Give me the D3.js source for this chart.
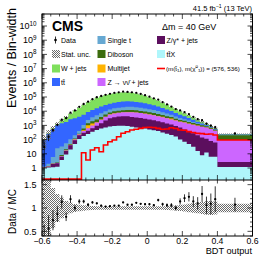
<!DOCTYPE html>
<html><head><meta charset="utf-8">
<script src="https://cdn.jsdelivr.net/npm/d3@7/dist/d3.min.js"></script>
<style>
html,body{margin:0;padding:0;background:#fff;}
svg{display:block;font-family:"Liberation Sans",Arial,Helvetica,sans-serif;}
</style></head><body>
<svg id="chart" width="266" height="258"></svg>
<script>
// ---------------- data (events / bin width) ----------------
const binEdges = [-0.6,-0.575,-0.55,-0.525,-0.5,-0.475,-0.45,-0.425,-0.4,-0.375,-0.35,-0.325,-0.3,-0.275,-0.25,-0.225,-0.2,-0.175,-0.15,-0.125,-0.1,-0.075,-0.05,-0.025,0,0.025,0.05,0.075,0.1,0.125,0.15,0.175,0.2,0.225,0.25,0.275,0.3,0.325,0.35,0.375,0.4,0.6];
const ttX      = [1.0,1.1,1.15,1.25,3.6,9,20,50,112,178,251,355,479,603,724,832,912,955,955,912,794,724,661,603,525,457,398,316,263,209,166,100,71,50,32,16,8,12.6,6.3,6.3,1.17];
const zGamma   = [0.05,0.15,0.75,0.9,2.7,7,20,40,88,120,166,276,476,810,1514,2330,2890,3214,3512,3453,3187,2906,2650,2348,2105,1887,1597,1344,1117,939,725,608,454,348,250,184,133,100,73,57,1.46];
const zNuNu    = [0.02,0.05,0.1,0.1,0.5,1,2.5,10,30,100,214,369,630,1100,1800,2700,3200,3600,3900,4200,4600,4400,4100,3700,3300,2900,2500,2100,1800,1500,1300,1100,1060,920,840,755,653,595,483,350,91];
const multijet = [0,0,0,0,0,0,0.5,5,5,60,400,350,60,80,100,120,300,150,150,150,200,150,130,250,100,100,150,250,100,400,100,80,60,50,40,30,20,15,10,8,2];
const diboson  = [0.05,0.1,0.1,0.2,1.5,4,5,15,25,150,400,600,950,1300,1700,2200,2700,3000,3300,3500,3500,3300,3000,2700,2400,2000,1700,1400,1100,800,700,550,450,380,320,250,200,150,100,70,110];
const singleTop= [0.15,0.6,3.9,22,24,35,57,80,150,450,1000,1800,2500,3200,4000,5000,6000,6800,7500,8000,8000,7500,7000,6200,5400,4700,3900,3000,2400,1800,1300,900,650,450,280,170,110,70,40,25,8];
const ttbar    = [92,255,560,1060,1380,1700,2595,2970,3711,4500,6400,8500,11000,14000,17000,20000,24000,27000,29000,30000,28000,26000,23000,20000,17000,14000,11000,8500,6200,4500,3200,2300,1600,1100,700,400,250,140,60,35,12];
const wJets    = [6.7,25,65,175,827,2225,4061,8050,13660,22626,34821,50846,71001,91109,111200,129000,146207,159455,165479,163581,151245,132848,110815,87226,66894,49814,34989,22901,15204,9805,6634,4362,2734,1714,1086,707,404,176,119,80,25];
const dataObs  = [30,158,467,1095,2530,3225,8046,11220,20273,32130,46708,70668,95806,117812,142179,168668,195519,214383,239452,228762,213493,197389,164978,132869,105542,80409,65794,42996,29875,21150,14125,11400,8566,6215,4045,2763,2311,1335,971,751,269];
const mcStatUnc= [0.8,0.65,0.43,0.3,0.22,0.15,0.11,0.085,0.07,0.06,0.05,0.045,0.04,0.035,0.035,0.035,0.035,0.035,0.035,0.035,0.035,0.035,0.035,0.035,0.035,0.035,0.035,0.04,0.045,0.05,0.055,0.065,0.075,0.09,0.1,0.11,0.13,0.145,0.15,0.14,0.09];
const signal   = [0,0,0,0,0,0,0,0,0,12,3.7,18.5,27,14,42,71,94,160,277,360,475,535,617,708,741,708,617,537,562,692,603,479,457,363,316,275,263,240,251,209,93];
const xTickValues = [-0.6,-0.4,-0.2,0,0.2,0.4,0.6];
const yTickPowers = [0,1,2,3,4,5,6,7,8,9,10];
const ratioTickValues = [0.5,1,1.5];

// stack order: bottom -> top
const layerDefs = [
  {key:"ttX",   values:ttX,      color:"#aff6fb"},
  {key:"zg",    values:zGamma,   color:"#5c0f5e"},
  {key:"znn",   values:zNuNu,    color:"#cc66ff"},
  {key:"mj",    values:multijet, color:"#ffb300"},
  {key:"vv",    values:diboson,  color:"#3c6c0e"},
  {key:"st",    values:singleTop,color:"#66a8d2"},
  {key:"tt",    values:ttbar,    color:"#3366ff"},
  {key:"wj",    values:wJets,    color:"#7fe05c"}
];
const colorOf = Object.fromEntries(layerDefs.map(l=>[l.key,l.color]));

// ---------------- layout ----------------
const svg = d3.select("#chart");
const L=42, R=252.5, T1=14, B1=180, B2=236;
const x  = d3.scaleLinear().domain([-0.6,0.6]).range([L,R]);
const y  = d3.scaleLog().domain([0.143,7e10]).range([B1,T1]);
const yr = d3.scaleLinear().domain([0.4,1.6]).range([B2,B1]);
const yc = v => v > y.domain()[0] ? y(v) : B1 + 3;

const defs = svg.append("defs");
defs.append("clipPath").attr("id","clipMain").append("rect")
  .attr("x",L).attr("y",T1).attr("width",R-L).attr("height",B1-T1);
defs.append("clipPath").attr("id","clipRatio").append("rect")
  .attr("x",L).attr("y",B1).attr("width",R-L).attr("height",B2-B1);
const pat = defs.append("pattern").attr("id","hatch").attr("patternUnits","userSpaceOnUse")
  .attr("width",2).attr("height",2);
pat.append("rect").attr("x",0).attr("y",0).attr("width",1).attr("height",1).attr("fill","#6a6a6a");
pat.append("rect").attr("x",1).attr("y",1).attr("width",1).attr("height",1).attr("fill","#6a6a6a");

const nBins = binEdges.length-1;
const table = d3.range(nBins).map(i => Object.fromEntries(layerDefs.map(l=>[l.key,l.values[i]])));
const series = d3.stack().keys(layerDefs.map(l=>l.key))(table);
const total = d3.range(nBins).map(i => series[series.length-1][i][1]);

const stepPts = (f0,f1) => d3.range(nBins).flatMap(i => [[binEdges[i],f0(i),f1(i)],[binEdges[i+1],f0(i),f1(i)]]);
const areaMain = d3.area().x(d=>x(d[0])).y0(d=>yc(d[1])).y1(d=>yc(d[2]));

const gMain = svg.append("g").attr("clip-path","url(#clipMain)");
// draw cumulative histograms from top to bottom (THStack style)
for (let k=series.length-1;k>=0;k--){
  const s = series[k];
  gMain.append("path")
    .attr("d", areaMain(stepPts(()=>0, i=>s[i][1])))
    .attr("fill", layerDefs[k].color);
}
// stat. unc. band
gMain.append("path")
  .attr("d", areaMain(stepPts(i=>total[i]*(1-mcStatUnc[i]), i=>total[i]*(1+mcStatUnc[i]))))
  .attr("fill","url(#hatch)");
// signal
const sigLine = d3.line().x(d=>x(d[0])).y(d=> d[1]>0 ? y(d[1]) : B1-0.9);
gMain.append("path")
  .attr("d", sigLine(d3.range(nBins).flatMap(i=>[[binEdges[i],signal[i]],[binEdges[i+1],signal[i]]])))
  .attr("fill","none").attr("stroke","#ff0000").attr("stroke-width",1.6);

// data points main
const centers = d3.range(nBins).map(i => (binEdges[i]+binEdges[i+1])/2);
const widths = d3.range(nBins).map(i => binEdges[i+1]-binEdges[i]);
const dataErr = d3.range(nBins).map(i => Math.sqrt(dataObs[i]*widths[i])/widths[i]);
const gData = svg.append("g").attr("clip-path","url(#clipMain)");
d3.range(nBins).forEach(i=>{
  const cx = x(centers[i]);
  gData.append("line").attr("x1",cx).attr("x2",cx)
    .attr("y1",yc(dataObs[i]-dataErr[i])).attr("y2",yc(dataObs[i]+dataErr[i]))
    .attr("stroke","#000").attr("stroke-width",0.8);
  gData.append("circle").attr("cx",cx).attr("cy",yc(dataObs[i])).attr("r",1.15).attr("fill","#000");
});

// ---------------- ratio ----------------
const gRatio = svg.append("g").attr("clip-path","url(#clipRatio)");
const areaR = d3.area().x(d=>x(d[0])).y0(d=>yr(d[1])).y1(d=>yr(d[2]));
gRatio.append("path")
  .attr("d", areaR(stepPts(i=>1-mcStatUnc[i], i=>1+mcStatUnc[i])))
  .attr("fill","url(#hatch)");
d3.range(nBins).forEach(i=>{
  const r = dataObs[i]/total[i], e = dataErr[i]/total[i];
  const cx = x(centers[i]);
  gRatio.append("line").attr("x1",cx).attr("x2",cx)
    .attr("y1",yr(r-e)).attr("y2",yr(r+e)).attr("stroke","#000").attr("stroke-width",0.8);
  gRatio.append("circle").attr("cx",cx).attr("cy",yr(r)).attr("r",1.15).attr("fill","#000");
});

// ---------------- frame & ticks ----------------
svg.append("rect").attr("x",L).attr("y",T1).attr("width",R-L).attr("height",B2-T1)
  .attr("fill","none").attr("stroke","#000").attr("stroke-width",1);
svg.append("line").attr("x1",L).attr("x2",R).attr("y1",B1).attr("y2",B1).attr("stroke","#000").attr("stroke-width",1);

const gAx = svg.append("g").attr("stroke","#000").attr("stroke-width",0.7);
const vt = (xp,y0,len)=>gAx.append("line").attr("x1",xp).attr("x2",xp).attr("y1",y0).attr("y2",y0+len);
const ht = (yp,x0,len)=>gAx.append("line").attr("y1",yp).attr("y2",yp).attr("x1",x0).attr("x2",x0+len);
const isMajorX = v => xTickValues.some(t=>Math.abs(t-v)<1e-6);
d3.range(-0.6,0.6001,0.05).forEach(v=>{
  const m = isMajorX(v), xp = x(v);
  vt(xp,B1,-(m?5:2.5)); vt(xp,T1,(m?5:2.5));
  vt(xp,B2,-(m?5:2.5)); vt(xp,B1,(m?3.5:1.8));
});
for (let k=-1;k<=10;k++){
  for (let m=1;m<=9;m++){
    const v = m*Math.pow(10,k);
    if (v<y.domain()[0] || v>y.domain()[1]) continue;
    const yp = y(v), len = m===1?5:2.5;
    ht(yp,L,len); ht(yp,R,-len);
  }
}
d3.range(0.4,1.6001,0.1).forEach(v=>{
  const m = ratioTickValues.some(t=>Math.abs(t-v)<1e-6);
  const yp = yr(v), len = m?5:2.5;
  ht(yp,L,len); ht(yp,R,-len);
});

// ---------------- labels ----------------
const txt = (xp,yp,s,size,anchor)=>svg.append("text").attr("x",xp).attr("y",yp)
  .attr("font-size",size).attr("text-anchor",anchor||"start").attr("fill","#000").text(s);

xTickValues.forEach(v=>{
  txt(x(v), 243.5, (v<0?"\u2212":"")+Math.abs(v).toString(), 8.7, "middle");
});
yTickPowers.forEach(p=>{
  const t = svg.append("text").attr("x",36.5).attr("y",y(Math.pow(10,p))+3.2)
    .attr("font-size",9).attr("text-anchor","end");
  if (p===0) t.text("1");
  else if (p===1) t.text("10");
  else { t.append("tspan").text("10"); t.append("tspan").attr("dy",-3.6).attr("font-size",6.3).text(p); }
});
ratioTickValues.forEach(v=>txt(36.5, yr(v)+3.2, v.toString(), 9, "end"));

txt(252, 253.5, "BDT output", 9.2, "end");
svg.append("text").attr("transform","translate(15.5,8) rotate(-90)").attr("text-anchor","end")
  .attr("font-size",12.5).text("Events / Bin-width");
svg.append("text").attr("transform","translate(15.5,211.5) rotate(-90)").attr("text-anchor","middle")
  .attr("font-size",10).text("Data / MC");

// top texts
svg.append("text").attr("x",52).attr("y",30.5).attr("font-size",14).attr("font-weight","bold").text("CMS");
{
  const t = svg.append("text").attr("x",252).attr("y",11).attr("font-size",7.5).attr("text-anchor","end");
  t.append("tspan").text("41.5 fb");
  t.append("tspan").attr("dy",-2.8).attr("font-size",5.2).text("\u22121");
  t.append("tspan").attr("dy",2.8).text(" (13 TeV)");
}
txt(162, 30, "\u0394m = 40 GeV", 9);

// legend
const rows = [40,54,68.5,82];
const box = (bx,row,fill)=>svg.append("rect").attr("x",bx).attr("y",rows[row]-4).attr("width",8).attr("height",8)
  .attr("fill",fill);
const lt = (tx,row,s)=>txt(tx, rows[row]+2.5, s, 7);
// col 1
svg.append("line").attr("x1",55.5).attr("x2",55.5).attr("y1",rows[0]-3.5).attr("y2",rows[0]+3.5).attr("stroke","#000").attr("stroke-width",0.8);
svg.append("circle").attr("cx",55.5).attr("cy",rows[0]).attr("r",1.3).attr("fill","#000");
lt(61,0,"Data");
box(52,1,"url(#hatch)"); lt(61,1,"Stat. unc.");
box(52,2,colorOf.wj); lt(61,2,"W + jets");
box(52,3,colorOf.tt); lt(61,3,"tt\u0304");
// col 2
box(97.5,0,colorOf.st); lt(107.5,0,"Single t");
box(97.5,1,colorOf.vv); lt(107.5,1,"Diboson");
box(97.5,2,colorOf.mj); lt(107.5,2,"Multijet");
box(97.5,3,colorOf.znn); lt(107.5,3,"Z \u2192 \u03bd\u03bd\u0304 + jets");
// col 3
box(157,0,colorOf.zg); lt(166.5,0,"Z/\u03b3* + jets");
box(157,1,colorOf.ttX); lt(166.5,1,"tt\u0304X");
svg.append("line").attr("x1",157).attr("x2",165).attr("y1",rows[2]).attr("y2",rows[2]).attr("stroke","#ff0000").attr("stroke-width",1.6);
{
  const t = svg.append("text").attr("x",166).attr("y",rows[2]+2.3).attr("font-size",6.2);
  t.append("tspan").text("(m(t\u0303");
  t.append("tspan").attr("dy",1.6).attr("font-size",4.4).text("1");
  t.append("tspan").attr("dy",-1.6).text("), m(\u03c7\u0303");
  t.append("tspan").attr("dy",-2.4).attr("font-size",4.4).text("0");
  t.append("tspan").attr("dy",4.0).attr("font-size",4.4).text("1");
  t.append("tspan").attr("dy",-1.6).text(")) = (576, 536)");
}
</script>
</body></html>
